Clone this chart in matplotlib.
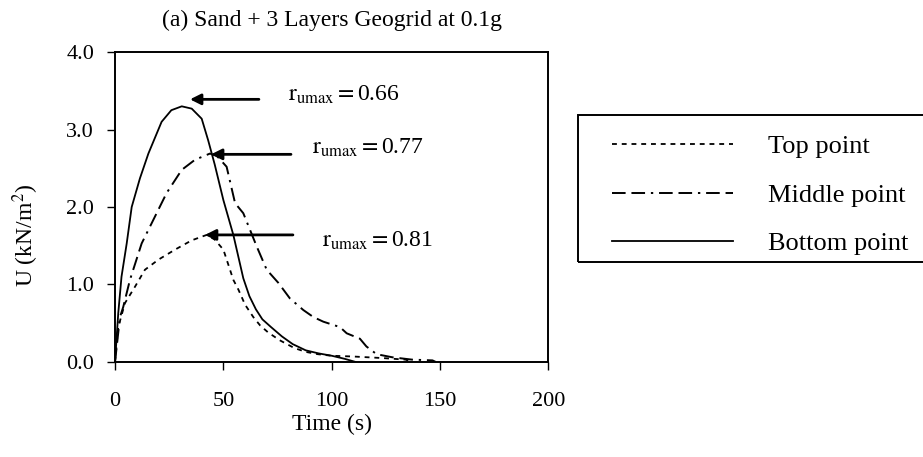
import matplotlib
matplotlib.use('Agg')
import matplotlib.pyplot as plt
from matplotlib.patches import Rectangle

plt.rcParams['font.family'] = ['Liberation Serif', 'DejaVu Serif']
plt.rcParams['mathtext.fontset'] = 'stix'

# time (s) and pore pressure U (kN/m2)
t_top = [0, 1.5, 4.6, 9.2, 13.8, 20, 27.7, 35.4, 42.3, 46, 50, 54.6, 57, 60,
         63.8, 67, 70.7, 76, 82.7, 88, 93.6, 100, 110, 123.5, 134, 137]
u_top = [0, 0.45, 0.76, 0.97, 1.19, 1.32, 1.45, 1.57, 1.64, 1.58, 1.45, 1.06,
         0.93, 0.74, 0.58, 0.47, 0.38, 0.28, 0.18, 0.13, 0.10, 0.08, 0.07,
         0.05, 0.03, 0.0]

t_mid = [0, 2.3, 3.8, 6.9, 12.3, 16.9, 23.8, 30.8, 36.9, 43.8, 47, 51.5, 55.4,
         59.2, 65.4, 70, 75.4, 80.7, 86.9, 91.5, 96.1, 103.8, 106.9, 113, 116,
         120.7, 128, 137, 146.5, 148]
u_mid = [0, 0.58, 0.71, 1.06, 1.53, 1.79, 2.18, 2.48, 2.61, 2.69, 2.66, 2.52,
         2.05, 1.92, 1.49, 1.19, 1.02, 0.82, 0.67, 0.58, 0.52, 0.45, 0.37,
         0.30, 0.20, 0.10, 0.06, 0.03, 0.02, 0.0]

t_bot = [0, 1.5, 3, 5.4, 7.7, 11.5, 15.4, 21.5, 26, 30.8, 35.4, 40, 43, 46, 50,
         54.6, 59.2, 62, 65, 68, 72, 77, 82, 88, 94, 100, 106, 111]
u_bot = [0, 0.63, 1.1, 1.53, 2.0, 2.37, 2.69, 3.10, 3.25, 3.30, 3.27, 3.14,
         2.86, 2.55, 2.09, 1.64, 1.08, 0.85, 0.68, 0.55, 0.45, 0.33, 0.23,
         0.15, 0.11, 0.08, 0.04, 0.0]

series_labels = ['Top point', 'Middle point', 'Bottom point']

# r_umax callouts: label, arrow head time, arrow tail time, level
ann_labels = ['0.66', '0.77', '0.81']
ann_head = [34.6, 44.3, 41.5]
ann_tail = [66.4, 81.2, 82.1]
ann_level = [3.39, 2.68, 1.64]
ann_text_t = [79.8, 90.9, 95.5]
ann_text_u = [3.45, 2.77, 1.56]

fig = plt.figure(figsize=(9.23, 4.57), dpi=100)
ax = fig.add_axes([0.1246, 0.208, 0.4696, 0.678])

l1, = ax.plot(t_top, u_top, color='black', lw=1.3, dashes=(2.7, 2.7))
l2, = ax.plot(t_mid, u_mid, color='black', lw=1.4, dashes=(7, 3, 7, 3, 1.2, 3))
l3, = ax.plot(t_bot, u_bot, color='black', lw=1.3)

for lab, h, tl, lv, tx, ty in zip(ann_labels, ann_head, ann_tail, ann_level,
                                  ann_text_t, ann_text_u):
    ax.annotate('', xy=(h, lv), xytext=(tl, lv),
                arrowprops=dict(arrowstyle='-|>', color='black', lw=2,
                                mutation_scale=16, shrinkA=0, shrinkB=0))
    ax.text(tx, ty, r'$\mathrm{r_{umax}}=$' + lab, fontsize=17,
            va='center', ha='left')

ax.set_xlim(0, 200)
ax.set_ylim(0, 4)
ax.set_xticks([0, 50, 100, 150, 200])
ax.set_yticks([0, 1, 2, 3, 4])
ax.set_yticklabels(['0.0', '1.0', '2.0', '3.0', '4.0'])
ax.tick_params(direction='out', length=6, width=1, labelsize=16,
               top=False, right=False)
ax.tick_params(axis='x', pad=16)
ax.tick_params(axis='y', pad=9)
for sp in ax.spines.values():
    sp.set_linewidth(1.4)

ax.set_xlabel('Time (s)', fontsize=17, labelpad=2)
ax.set_ylabel(r'U (kN/m$^2$)', fontsize=17)
ax.yaxis.set_label_coords(-0.17, 0.41)
ax.set_title('(a) Sand + 3 Layers Geogrid at 0.1g', fontsize=17, pad=19)

# legend box runs off the right edge of the figure
fig.patches.append(Rectangle((578 / 923, 1 - 262 / 457), 0.5, 147 / 457,
                             transform=fig.transFigure, fill=False,
                             edgecolor='black', lw=1.4))
fig.legend([l1, l2, l3], series_labels, loc='upper left',
           bbox_to_anchor=(612 / 923, 1 - 135 / 457), fontsize=19,
           frameon=False, borderaxespad=0, borderpad=0,
           handlelength=4.6, handletextpad=1.3, labelspacing=0.94)

fig.savefig('out.png', dpi=100)
